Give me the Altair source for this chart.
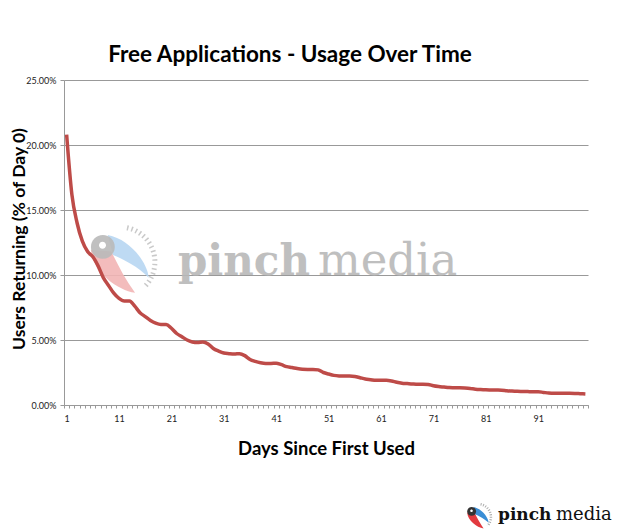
import altair as alt
import pandas as pd

days = list(range(1, 101))
retention_pct = [
    20.8, 16.2, 14.0, 12.6, 11.8, 11.4, 10.7, 9.8, 9.2, 8.6,
    8.2, 8.0, 8.0, 7.6, 7.1, 6.8, 6.5, 6.3, 6.2, 6.2,
    5.9, 5.5, 5.25, 5.0, 4.85, 4.8, 4.85, 4.7, 4.35, 4.15,
    4.0, 3.95, 3.92, 3.95, 3.8, 3.5, 3.35, 3.25, 3.2, 3.2,
    3.22, 3.1, 2.95, 2.88, 2.8, 2.75, 2.74, 2.74, 2.7, 2.5,
    2.38, 2.28, 2.24, 2.23, 2.23, 2.2, 2.1, 2.0, 1.95, 1.9,
    1.9, 1.9, 1.85, 1.75, 1.68, 1.65, 1.62, 1.6, 1.6, 1.58,
    1.48, 1.42, 1.38, 1.34, 1.33, 1.32, 1.3, 1.27, 1.22, 1.19,
    1.17, 1.16, 1.15, 1.14, 1.1, 1.07, 1.05, 1.04, 1.03, 1.02,
    1.02, 0.97, 0.92, 0.9, 0.9, 0.9, 0.9, 0.89, 0.87, 0.85,
]
y_ticks = [0, 0.05, 0.10, 0.15, 0.20, 0.25]

df = pd.DataFrame({"day": days, "ret": [v / 100 for v in retention_pct]})

FONT = "Lato"
W, H = 524, 325

line = alt.Chart(df).mark_line(
    color="#BE4B48", strokeWidth=3.5, interpolate="monotone"
).encode(
    x=alt.X(
        "day:O",
        sort=days,
        scale=alt.Scale(type="band", paddingInner=0, paddingOuter=0),
        axis=alt.Axis(
            title="Days Since First Used",
            titleFont=FONT, titleFontSize=18.5, titleFontWeight="bold",
            titleColor="#000", titlePadding=16,
            labelAngle=0,
            labelExpr="(datum.value - 1) % 10 == 0 ? datum.label : ''",
            labelFont=FONT, labelFontSize=9, labelColor="#222",
            labelPadding=6,
            tickBand="extent", tickSize=3, tickColor="#999",
            domainColor="#999", grid=False,
        ),
    ),
    y=alt.Y(
        "ret:Q",
        scale=alt.Scale(domain=[0, 0.25], nice=False),
        axis=alt.Axis(
            title="Users Returning (% of Day 0)",
            titleFont=FONT, titleFontSize=17.5, titleFontWeight="bold",
            titleColor="#000", titleX=-40, titleY=H / 2 - 4,
            titleAngle=270, titleBaseline="alphabetic", titleAlign="center",
            values=y_ticks, format=".2%",
            labelFont=FONT, labelFontSize=9, labelColor="#222",
            labelPadding=4, tickSize=4, tickColor="#999",
            domainColor="#999",
            grid=True, gridColor="#999", gridWidth=1,
        ),
    ),
)

one = pd.DataFrame({"a": [1]})

HEAD = "M -0.83 -0.43 A 0.34 0.34 0 1 1 -0.15 -0.43 A 0.34 0.34 0 1 1 -0.83 -0.43 Z"
TAIL_RED = "M -0.83 -0.35 C -0.8 0.25 -0.1 0.8 0.43 0.88 C 0.15 0.5 -0.05 0.1 -0.25 -0.3 Z"
TAIL_BLUE = "M -0.35 -0.77 C 0.3 -0.65 0.8 0.05 0.82 0.45 C 0.55 0.15 0.05 -0.1 -0.2 -0.2 Z"
ARC = "M 0.2 -0.98 A 1 1 0 0 1 0.72 0.69"
HOLE = "M -0.6 -0.48 A 0.1 0.1 0 1 1 -0.4 -0.48 A 0.1 0.1 0 1 1 -0.6 -0.48 Z"


def icon(cx, cy, px, red, blue, head, arc, op, dash):
    size = (2 * px) ** 2
    parts = []
    for shp, col in [(TAIL_RED, red), (TAIL_BLUE, blue), (HEAD, head), (HOLE, "#ffffff")]:
        parts.append(
            alt.Chart(one).mark_point(
                shape=shp, size=size, filled=True, fill=col, stroke=None,
                opacity=op if col != "#ffffff" else 1,
            ).encode(x=alt.value(cx), y=alt.value(cy))
        )
    parts.append(
        alt.Chart(one).mark_point(
            shape=ARC, size=size, filled=False, stroke=arc,
            strokeWidth=dash[0], strokeDash=[dash[1], dash[2]], opacity=op,
        ).encode(x=alt.value(cx), y=alt.value(cy))
    )
    return parts


wm_icon = icon(56, 182, 35, "#f2b5b5", "#b7d6f2", "#b9b9b9", "#c4c4c4", 0.9, (5, 1.5, 3))
logo_icon = icon(414, 437, 13, "#e23a3f", "#3a8ed6", "#333333", "#aaaaaa", 1, (2.5, 1, 1.5))

wm_pinch = alt.Chart(one).mark_text(
    text="pinch", font="DejaVu Serif", fontWeight="bold", fontSize=42,
    color="#b9b9b9", align="left", baseline="alphabetic", opacity=0.9,
).encode(x=alt.value(114), y=alt.value(195))
wm_media = alt.Chart(one).mark_text(
    text="media", font="DejaVu Serif", fontSize=45,
    color="#b9b9b9", align="left", baseline="alphabetic", opacity=0.9,
).encode(x=alt.value(254), y=alt.value(195))

logo_pinch = alt.Chart(one).mark_text(
    text="pinch", font="DejaVu Serif", fontWeight="bold", fontSize=17,
    color="#111", align="left", baseline="alphabetic",
).encode(x=alt.value(434), y=alt.value(440))
logo_media = alt.Chart(one).mark_text(
    text="media", font="DejaVu Serif", fontSize=18,
    color="#111", align="left", baseline="alphabetic",
).encode(x=alt.value(492), y=alt.value(440))

chart = alt.layer(
    *wm_icon, wm_pinch, wm_media, line, *logo_icon, logo_pinch, logo_media
).properties(
    width=W, height=H,
    title=alt.TitleParams(
        "Free Applications - Usage Over Time",
        font=FONT, fontSize=22.5, fontWeight="bold", color="#000",
        anchor="middle", dx=-36, offset=10,
    ),
    autosize=alt.AutoSizeParams(type="none"),
    padding={"left": 56, "top": 72, "right": 26, "bottom": 125},
).configure_view(stroke=None)

chart.save("out.html", embed_options={"renderer": "svg", "actions": False})
